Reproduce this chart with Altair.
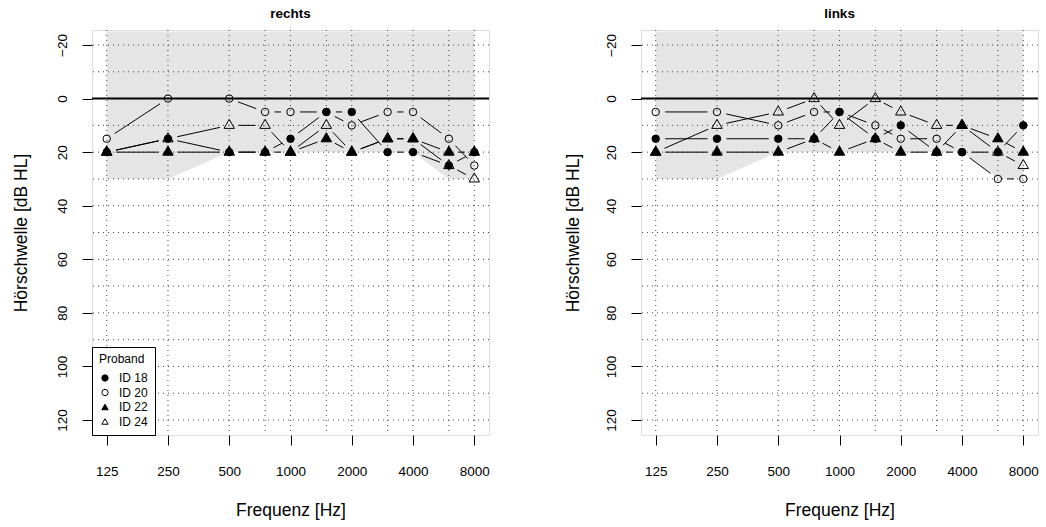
import altair as alt
import numpy as np
import pandas as pd

# ---------------- data ----------------
FREQS = [125, 250, 500, 750, 1000, 1500, 2000, 3000, 4000, 6000, 8000]
IDS = ["ID 18", "ID 20", "ID 22", "ID 24"]

# rechts (right ear), dB HL
R_ID18 = [20, 15, 20, 20, 15, 5, 5, 20, 20, 25, 20]
R_ID20 = [15, 0, 0, 5, 5, 5, 10, 5, 5, 15, 25]
R_ID22 = [20, 20, 20, 20, 20, 15, 20, 15, 15, 20, 20]
R_ID24 = [20, 15, 10, 10, 20, 10, 20, 15, 15, 25, 30]

# links (left ear), dB HL
L_ID18 = [15, 15, 15, 15, 5, 15, 10, 20, 20, 20, 10]
L_ID20 = [5, 5, 10, 5, 5, 10, 15, 15, 20, 30, 30]
L_ID22 = [20, 20, 20, 15, 20, 15, 20, 20, 10, 15, 20]
L_ID24 = [20, 10, 5, 0, 10, 0, 5, 10, 10, 20, 25]

# shaded normal range
GRAY_LOWER = [30, 30, 20, 20, 20, 20, 20, 20, 20, 30, 30]
GRAY_UPPER = -25

TICK_FREQS = [125, 250, 500, 1000, 2000, 4000, 8000]
Y_TICKS = [-20, 0, 20, 40, 60, 80, 100, 120]
GRID_DB = list(range(-20, 121, 10))
ZERO_LINE = [0]

# ---------------- layout constants ----------------
W, H = 397, 405
X_DOMAIN = [125 / 2 ** 0.24, 8000 * 2 ** 0.24]
Y_DOMAIN = [-25.6, 125.6]
GAP = 9.5  # px gap between line ends and symbols (R type="b")
FONT = "Liberation Sans"

PX_OCT = W / np.log2(X_DOMAIN[1] / X_DOMAIN[0])
PX_DB = H / (Y_DOMAIN[1] - Y_DOMAIN[0])

x_axis = alt.Axis(
    values=TICK_FREQS, format="d", title="Frequenz [Hz]", grid=False, domain=False,
    tickSize=10, tickColor="black", tickWidth=1, labelFontSize=13.5, labelColor="black",
    labelPadding=19, labelFlush=False, labelOverlap=False, labelFont=FONT,
    titleFontSize=17.5, titleFontWeight="normal", titleColor="black", titleFont=FONT,
    titleX=W / 2, titleY=66, titleBaseline="top", titleAlign="center",
)
x_scale = alt.Scale(type="log", domain=X_DOMAIN, nice=False, zero=False)
y_scale = alt.Scale(domain=Y_DOMAIN, reverse=True, nice=False, zero=False)

shape_scale = alt.Scale(domain=IDS, range=["circle", "circle", "triangle-up", "triangle-up"])
fill_scale = alt.Scale(domain=IDS, range=["black", "transparent", "black", "transparent"])
stroke_scale = alt.Scale(domain=IDS, range=["black", "black", "black", "black"])


def make_y_axis(title_x):
    return alt.Axis(
        values=Y_TICKS, format="d", title="Hörschwelle [dB HL]", grid=False, domain=False,
        tickSize=10, tickColor="black", tickWidth=1, labelFontSize=13.5, labelColor="black",
        labelAngle=270, labelAlign="center", labelBaseline="bottom", labelPadding=13,
        labelFlush=False, labelOverlap=False, labelFont=FONT,
        titleFontSize=17.5, titleFontWeight="normal", titleColor="black", titleFont=FONT,
        titleAngle=270, titleX=title_x, titleY=H / 2, titleBaseline="middle",
        titleAlign="center",
    )


def segments(series):
    rows = []
    for pid, vals in series.items():
        for i in range(len(FREQS) - 1):
            f1, f2 = FREQS[i], FREQS[i + 1]
            d1, d2 = vals[i], vals[i + 1]
            lx = np.log2(f2 / f1)
            dd = d2 - d1
            L = np.hypot(lx * PX_OCT, dd * PX_DB)
            if L <= 2 * GAP:
                continue
            t = GAP / L
            rows.append(dict(id=pid,
                             x1=f1 * 2 ** (t * lx), x2=f1 * 2 ** ((1 - t) * lx),
                             y1=d1 + t * dd, y2=d1 + (1 - t) * dd))
    return pd.DataFrame(rows)


def panel(side, series, show_legend, title_x):
    y_axis = make_y_axis(title_x)

    def xenc(field):
        return alt.X(f"{field}:Q", scale=x_scale, axis=x_axis)

    def yenc(field):
        return alt.Y(f"{field}:Q", scale=y_scale, axis=y_axis)

    pts = pd.DataFrame([dict(id=pid, freq=f, db=v)
                        for pid, vals in series.items() for f, v in zip(FREQS, vals)])
    gray_df = pd.DataFrame(dict(freq=FREQS, lo=GRAY_LOWER, hi=[GRAY_UPPER] * len(FREQS)))

    gray = alt.Chart(gray_df).mark_area(color="#E5E5E5", opacity=1).encode(
        x=xenc("freq"), y=yenc("lo"), y2="hi:Q")
    vgrid = alt.Chart(pd.DataFrame(dict(freq=FREQS))).mark_rule(
        color="#444444", strokeWidth=1, strokeDash=[1, 4]).encode(x=xenc("freq"))
    hgrid = alt.Chart(pd.DataFrame(dict(db=GRID_DB))).mark_rule(
        color="#444444", strokeWidth=1, strokeDash=[1, 4]).encode(y=yenc("db"))
    zero = alt.Chart(pd.DataFrame(dict(db=ZERO_LINE))).mark_rule(
        color="black", strokeWidth=2).encode(y=yenc("db"))
    segs = alt.Chart(segments(series)).mark_rule(color="black", strokeWidth=1).encode(
        x=xenc("x1"), x2="x2:Q", y=yenc("y1"), y2="y2:Q")

    if show_legend:
        leg = alt.Legend(title="Proband", orient="bottom-left", offset=0, padding=7,
                         fillColor="white", strokeColor="black", cornerRadius=0,
                         titleFontSize=12, titleFontWeight="normal", titleColor="black",
                         titleFont=FONT, titlePadding=6, labelFontSize=12,
                         labelColor="black", labelFont=FONT, symbolSize=40,
                         symbolStrokeColor="black", symbolStrokeWidth=1, rowPadding=2.5,
                         labelOffset=8, symbolOffset=0)
    else:
        leg = None

    enc = dict(
        x=xenc("freq"), y=yenc("db"),
        shape=alt.Shape("id:N", scale=shape_scale, legend=leg),
        fill=alt.Fill("id:N", scale=fill_scale, legend=leg),
        stroke=alt.Stroke("id:N", scale=stroke_scale, legend=leg),
    )
    circles = alt.Chart(pts).transform_filter(
        alt.FieldOneOfPredicate(field="id", oneOf=IDS[:2])
    ).mark_point(filled=True, strokeWidth=1, size=56, opacity=1).encode(**enc)
    triangles = alt.Chart(pts).transform_filter(
        alt.FieldOneOfPredicate(field="id", oneOf=IDS[2:])
    ).mark_point(filled=True, strokeWidth=1, size=110, opacity=1,
                 yOffset=-1.5).encode(**enc)

    return alt.layer(gray, vgrid, hgrid, zero, segs, circles, triangles).properties(
        width=W, height=H,
        title=alt.TitleParams(side, fontSize=13.5, fontWeight="bold", offset=9,
                              anchor="middle", color="black", font=FONT),
    )


left = panel("rechts", dict(zip(IDS, [R_ID18, R_ID20, R_ID22, R_ID24])), True, -71)
right = panel("links", dict(zip(IDS, [L_ID18, L_ID20, L_ID22, L_ID24])), False, -68)

chart = alt.hconcat(left, right, spacing=152, bounds="flush").resolve_legend(
    shape="independent", fill="independent", stroke="independent"
).properties(
    padding={"left": 11, "top": 6, "right": 2, "bottom": 2},
    background="white",
).configure_view(stroke="black", strokeWidth=1).configure(font=FONT)

chart.save("out.html", embed_options={"renderer": "svg", "actions": False})
